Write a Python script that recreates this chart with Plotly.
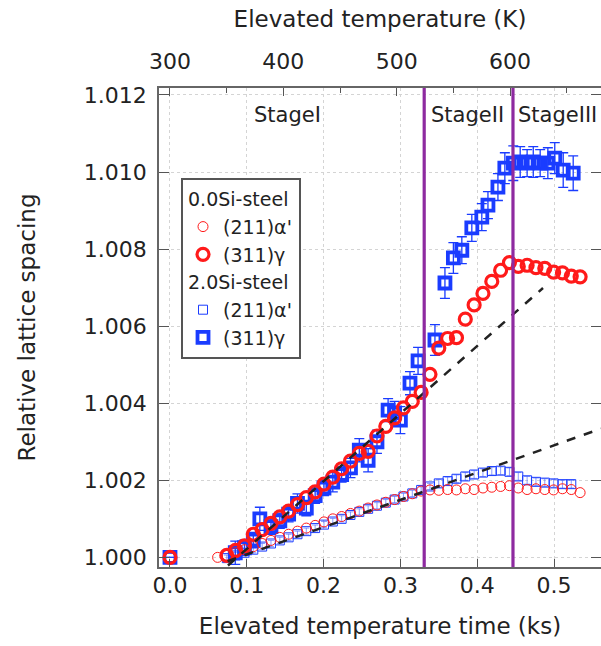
import plotly.graph_objects as go

# ---------------- data ----------------
# 0.0Si-steel (311)gamma
t_g0 = [0.0, 0.074, 0.0855, 0.097, 0.1085, 0.120, 0.1315, 0.143, 0.1545, 0.166, 0.1775,
        0.189, 0.2005, 0.212, 0.2235, 0.235, 0.2465, 0.258, 0.2695, 0.281, 0.2925,
        0.304, 0.3155, 0.327, 0.3385, 0.350, 0.3615, 0.373, 0.3845, 0.396, 0.4075,
        0.419, 0.4305, 0.442, 0.4535, 0.465, 0.4765, 0.488, 0.4995, 0.511, 0.5225, 0.534]
v_g0 = [1.00000, 1.00005, 1.00018, 1.00030, 1.00060, 1.00072, 1.00088, 1.00105, 1.00120, 1.00137, 1.00155,
        1.00170, 1.00190, 1.00208, 1.00230, 1.00250, 1.00270, 1.00275, 1.00315, 1.00340, 1.00362,
        1.00388, 1.00405, 1.00428, 1.00475, 1.00543, 1.00568, 1.00570, 1.00618, 1.00655, 1.00685,
        1.00716, 1.00745, 1.00765, 1.00755, 1.00758, 1.00752, 1.00750, 1.00740, 1.00738, 1.00730, 1.00728]

# 0.0Si-steel (211)alpha'
t_a0 = [0.0, 0.062, 0.074, 0.0855, 0.097, 0.1085, 0.120, 0.1315, 0.143, 0.1545, 0.166, 0.1775,
        0.189, 0.2005, 0.212, 0.2235, 0.235, 0.2465, 0.258, 0.2695, 0.281, 0.2925,
        0.304, 0.3155, 0.327, 0.3385, 0.350, 0.3615, 0.373, 0.3845, 0.396, 0.4075,
        0.419, 0.4305, 0.442, 0.4535, 0.465, 0.4765, 0.488, 0.4995, 0.511, 0.5225, 0.534]
v_a0 = [1.00000, 1.00000, 1.00005, 1.00012, 1.00020, 1.00028, 1.00036, 1.00044, 1.00052, 1.00060, 1.00068, 1.00076,
        1.00083, 1.00092, 1.00100, 1.00106, 1.00114, 1.00120, 1.00128, 1.00136, 1.00143, 1.00150,
        1.00158, 1.00165, 1.00172, 1.00175, 1.00174, 1.00176, 1.00175, 1.00178, 1.00176, 1.00180,
        1.00182, 1.00184, 1.00186, 1.00180, 1.00176, 1.00178, 1.00176, 1.00175, 1.00178, 1.00176, 1.00168]

# 2.0Si-steel (211)alpha'
t_a2 = [0.0, 0.074, 0.0855, 0.097, 0.1085, 0.120, 0.1315, 0.143, 0.1545, 0.166, 0.1775,
        0.189, 0.2005, 0.212, 0.2235, 0.235, 0.2465, 0.258, 0.2695, 0.281, 0.2925,
        0.304, 0.3155, 0.327, 0.3385, 0.350, 0.3615, 0.373, 0.3845, 0.396, 0.4075,
        0.419, 0.4305, 0.442, 0.4535, 0.465, 0.4765, 0.488, 0.4995, 0.511, 0.5225]
v_a2 = [1.00000, 0.99998, 1.00005, 1.00012, 1.00020, 1.00028, 1.00036, 1.00044, 1.00052, 1.00060, 1.00068,
        1.00076, 1.00085, 1.00093, 1.00100, 1.00110, 1.00118, 1.00126, 1.00134, 1.00142, 1.00150,
        1.00158, 1.00166, 1.00175, 1.00184, 1.00192, 1.00198, 1.00204, 1.00210, 1.00215, 1.00220,
        1.00224, 1.00225, 1.00222, 1.00210, 1.00200, 1.00196, 1.00194, 1.00192, 1.00190, 1.00190]
e_a2 = [0.0, 0.00008, 0.00008, 0.00008, 0.00008, 0.00008, 0.00008, 0.00008, 0.00008, 0.00008, 0.00008,
        0.00008, 0.00008, 0.00008, 0.00008, 0.00008, 0.00008, 0.00008, 0.00008, 0.00008, 0.00008,
        0.00008, 0.00008, 0.00008, 0.00008, 0.00010, 0.00010, 0.00010, 0.00010, 0.00010, 0.00010,
        0.00010, 0.00010, 0.00010, 0.00010, 0.00010, 0.00010, 0.00010, 0.00010, 0.00010, 0.00010]

# 2.0Si-steel (311)gamma
t_g2 = [0.0, 0.085, 0.097, 0.1085, 0.117, 0.1315, 0.143, 0.1545, 0.166, 0.1775,
        0.189, 0.2005, 0.212, 0.2235, 0.235, 0.2465, 0.258, 0.2695, 0.284, 0.2925,
        0.300, 0.3125, 0.323, 0.345, 0.358, 0.369, 0.380, 0.393, 0.406, 0.414,
        0.427, 0.436, 0.447, 0.456, 0.465, 0.473, 0.482, 0.492, 0.501, 0.512, 0.525]
v_g2 = [1.00000, 1.00012, 1.00025, 1.00045, 1.00100, 1.00080, 1.00095, 1.00112, 1.00140, 1.00128,
        1.00160, 1.00180, 1.00195, 1.00215, 1.00232, 1.00278, 1.00252, 1.00300, 1.00382, 1.00375,
        1.00356, 1.00452, 1.00510, 1.00564, 1.00712, 1.00777, 1.00797, 1.00855, 1.00883, 1.00914,
        1.00961, 1.01010, 1.01023, 1.01026, 1.01023, 1.01026, 1.01023, 1.01023, 1.01036, 1.01005, 1.00997]
e_g2 = [0.0, 0.00030, 0.00020, 0.00020, 0.00030, 0.00020, 0.00020, 0.00020, 0.00025, 0.00020,
        0.00020, 0.00020, 0.00025, 0.00020, 0.00025, 0.00030, 0.00030, 0.00030, 0.00030, 0.00030,
        0.00035, 0.00030, 0.00035, 0.00040, 0.00040, 0.00040, 0.00035, 0.00035, 0.00035, 0.00035,
        0.00035, 0.00040, 0.00045, 0.00040, 0.00035, 0.00040, 0.00035, 0.00040, 0.00040, 0.00045, 0.00045]

# linear extrapolation (dashed) lines
fit_g_t = [0.0755, 0.4857]
fit_g_v = [0.99979, 1.00699]
fit_a_t = [0.075, 0.5612]
fit_a_v = [0.99990, 1.00334]

# stage boundaries (ks)
stage_bounds = [0.331, 0.4466]
stage_names = ["StageI", "StageII", "StageIII"]
stage_pos = [0.153, 0.387, 0.451]

# axes
x_ticks = [0.0, 0.1, 0.2, 0.3, 0.4, 0.5]
y_ticks = [1.000, 1.002, 1.004, 1.006, 1.008, 1.010, 1.012]
temp_ticks = [300, 400, 500, 600]
x_range = [-0.0143, 0.5612]
y_range = [0.99975, 1.01218]
T_start = 300.0          # K at t = 0
heat_rate = 677.6        # K per ks

RED = "#ff1a1a"
BLUE = "#1a3cff"
FONT = "DejaVu Sans, sans-serif"

fig = go.Figure()

fig.add_trace(go.Scatter(
    x=t_a2, y=v_a2, mode="markers", name="(211)α'",
    legendgroup="si2", legendgrouptitle=dict(text="2.0Si-steel"), legendrank=3,
    marker=dict(symbol="square-open", size=9, color=BLUE, line=dict(width=1, color=BLUE)),
    error_y=dict(type="data", array=e_a2, color="rgba(60,90,255,0.6)", thickness=1, width=3),
))
fig.add_trace(go.Scatter(
    x=t_g2, y=v_g2, mode="markers", name="(311)γ",
    legendgroup="si2", legendrank=4,
    marker=dict(symbol="square-open", size=11, color=BLUE, line=dict(width=3.8, color=BLUE)),
    error_y=dict(type="data", array=e_g2, color=BLUE, thickness=1.3, width=5),
))
fig.add_trace(go.Scatter(
    x=t_a0, y=v_a0, mode="markers", name="(211)α'",
    legendgroup="si0", legendgrouptitle=dict(text="0.0Si-steel"), legendrank=1,
    marker=dict(symbol="circle-open", size=10, color=RED, line=dict(width=1, color=RED)),
))
fig.add_trace(go.Scatter(
    x=t_g0, y=v_g0, mode="markers", name="(311)γ",
    legendgroup="si0", legendrank=2,
    marker=dict(symbol="circle-open", size=12, color=RED, line=dict(width=3.2, color=RED)),
))

for tx, vy in [(fit_g_t, fit_g_v), (fit_a_t, fit_a_v)]:
    fig.add_trace(go.Scatter(x=tx, y=vy, mode="lines", showlegend=False,
                             line=dict(color="#222222", width=2.5, dash="dash")))

# invisible trace to activate the top temperature axis
fig.add_trace(go.Scatter(x=[T_start], y=[y_range[0]], xaxis="x2", mode="markers",
                         marker=dict(opacity=0), showlegend=False, hoverinfo="skip"))

for b in stage_bounds:
    fig.add_shape(type="line", x0=b, x1=b, y0=0, y1=1, xref="x", yref="paper",
                  line=dict(color="#8e2aa0", width=3.2), layer="above")

for name, pos in zip(stage_names, stage_pos):
    fig.add_annotation(x=pos, y=0.9436, xref="x", yref="paper", text=name,
                       showarrow=False, xanchor="left" if name == "StageIII" else "center",
                       yanchor="middle", font=dict(size=21, color="#222222", family=FONT))

axis_common = dict(showline=True, linecolor="#666666", linewidth=1.5, automargin=False,
                   ticks="inside", tickcolor="#555555", tickfont=dict(size=22, color="#222222", family=FONT),
                   zeroline=False)

fig.update_layout(
    width=601, height=646,
    margin=dict(l=159, r=0, t=88, b=79),
    plot_bgcolor="white", paper_bgcolor="white",
    font=dict(family=FONT, color="#222222"),
    xaxis=dict(range=x_range, tickvals=x_ticks, tickformat=".1f", ticklen=8, ticklabelstandoff=-2,
               showgrid=True, gridcolor="#d4d4d4", griddash="dot", gridwidth=1, mirror=True,
               title=dict(text="Elevated temperature time (ks)", font=dict(size=23, family=FONT), standoff=21),
               **axis_common),
    xaxis2=dict(overlaying="x", side="top",
                range=[T_start + x_range[0] * heat_rate, T_start + x_range[1] * heat_rate],
                tickvals=temp_ticks, ticklen=8, showgrid=False, ticklabelstandoff=8,
                minor=dict(dtick=50, tick0=300, ticks="inside", ticklen=5, tickcolor="#555555"),
                title=dict(text="Elevated temperature (K)", font=dict(size=23, family=FONT), standoff=15),
                **axis_common),
    yaxis=dict(range=y_range, tickvals=y_ticks, tickformat=".3f", ticklen=10, ticklabelstandoff=6,
               showgrid=True, gridcolor="#d4d4d4", griddash="dot", gridwidth=1, mirror="ticks",
               title=dict(text="Relative lattice spacing", font=dict(size=23, family=FONT), standoff=42),
               **axis_common),
    legend=dict(x=0.0498, y=0.812, xanchor="left", yanchor="top",
                bgcolor="white", bordercolor="#555555", borderwidth=2,
                font=dict(size=19, family=FONT, color="#222222"),
                grouptitlefont=dict(size=19, family=FONT, color="#222222"),
                tracegroupgap=0, itemwidth=30),
    showlegend=True,
)

fig.write_html("out.html", config={"displayModeBar": False},
               post_script="document.body.style.margin='0';")
